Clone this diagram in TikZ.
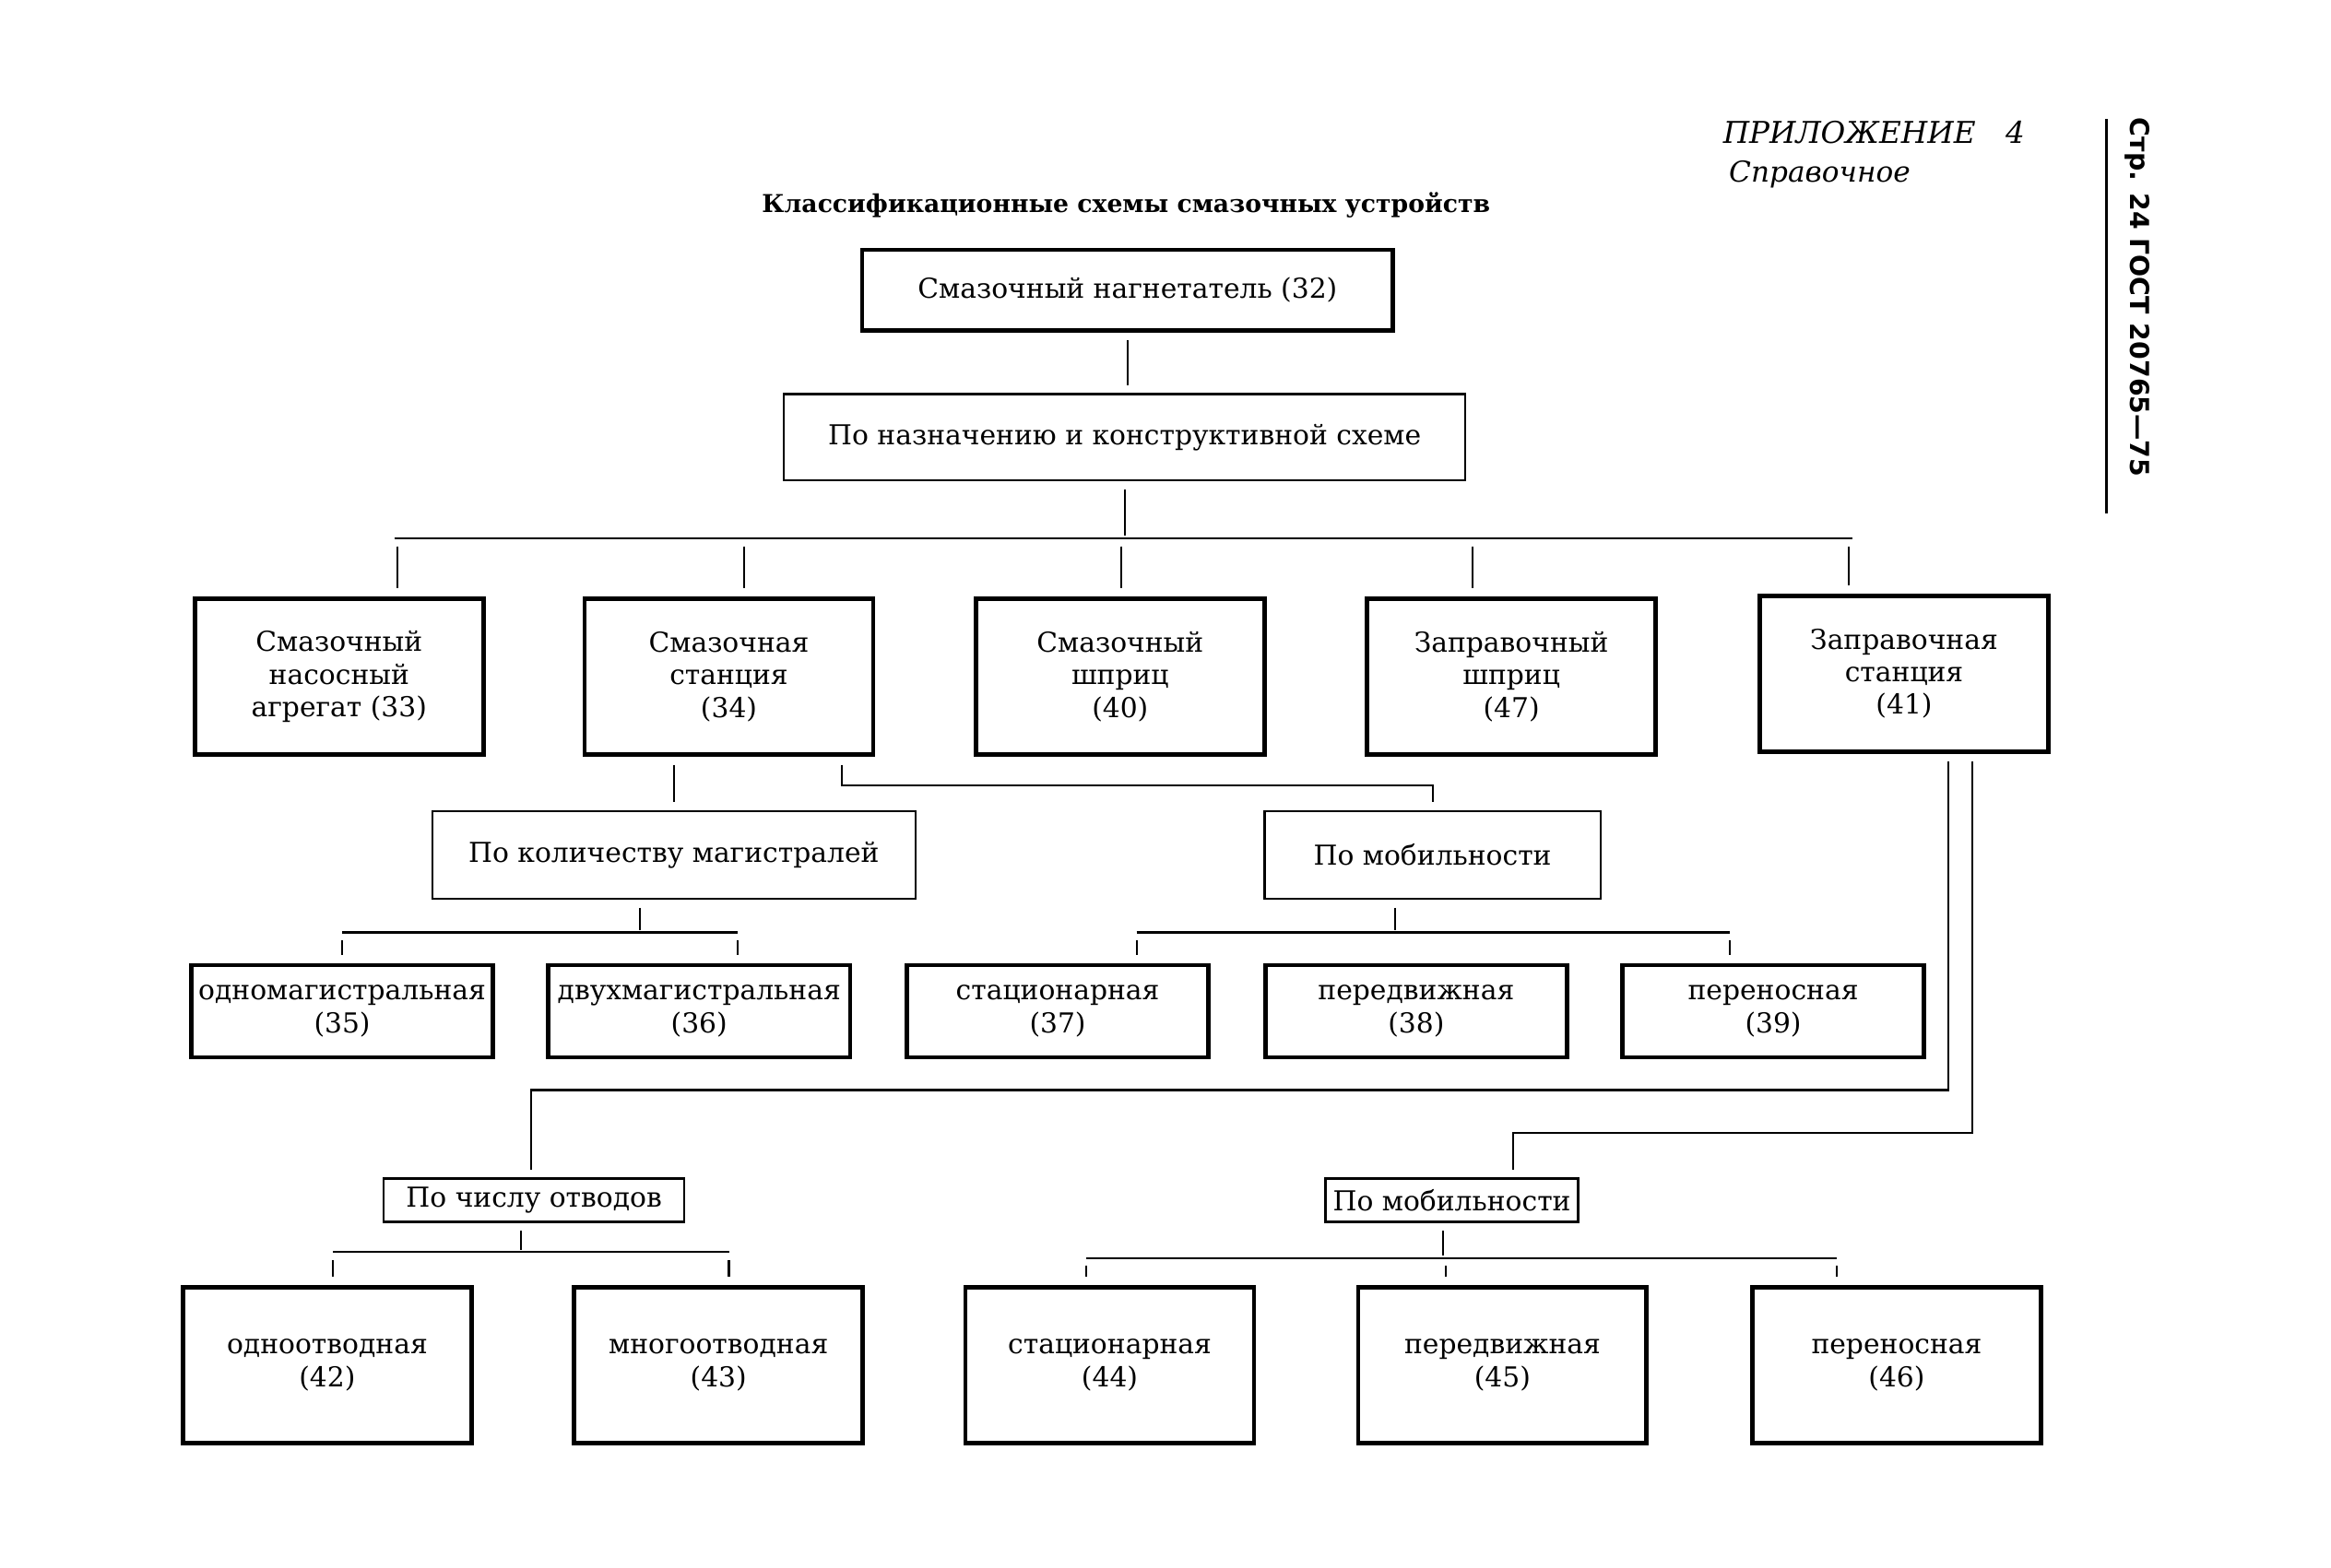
\documentclass[tikz,border=0pt]{standalone}
\usepackage{fontspec}
\setmainfont{DejaVu Serif}
\newfontfamily\sidefont{DejaVu Sans}
\usetikzlibrary{positioning}

\begin{document}
\begin{tikzpicture}[x=0.02cm, y=-0.02cm,
	device/.style={draw, line width=1.7pt, align=center, inner sep=0pt,
		font=\fontsize{10.5}{12.5}\selectfont},
	feature/.style={draw, line width=0.85pt, align=center, inner sep=0pt,
		font=\fontsize{10.5}{12.5}\selectfont},
	link/.style={line width=0.75pt, shorten <=3pt, shorten >=3pt},
	bus/.style={line width=0.75pt}]
	\useasboundingbox (0,0) rectangle (1567,1054);
	
	% Header
	\node[anchor=west, inner sep=0pt, font=\itshape\fontsize{11.5}{13}\selectfont] (appendix) at (1158,89) {ПРИЛОЖЕНИЕ\quad 4};
	\node[anchor=west, inner sep=0pt, font=\itshape\fontsize{11}{13}\selectfont] (reference) at (1162,117) {Справочное};
	\node[font=\bfseries\fontsize{9.4}{12}\selectfont] (title) at (757,138) {Классификационные схемы смазочных устройств};
	\node[rotate=-90, font=\sidefont\bfseries\fontsize{10}{12}\selectfont] (page) at (1437,200) {Стр. 24 ГОСТ 20765—75};
	\draw[line width=1.1pt] (1416,80) -- (1416,345);
	
	% Top
	\node[device, minimum width=7.14cm, minimum height=1.08cm] (pump) at (758,195) {Смазочный нагнетатель (32)};
	\node[feature, minimum width=9.16cm, minimum height=1.16cm] (purpose) at (756,294) {По назначению и конструктивной схеме};
	\draw[link] (pump.south) -- (pump.south |- purpose.north);
	
	% First row
	\node[device, minimum width=3.88cm, minimum height=2.1cm] (unit) at (228,455) {Смазочный\\насосный\\агрегат (33)};
	\node[device, minimum width=3.88cm, minimum height=2.1cm] (station) at (490,455) {Смазочная\\станция\\(34)};
	\node[device, minimum width=3.88cm, minimum height=2.1cm] (gun) at (753,455) {Смазочный\\шприц\\(40)};
	\node[device, minimum width=3.88cm, minimum height=2.1cm] (fillgun) at (1016,455) {Заправочный\\шприц\\(47)};
	\node[device, minimum width=3.88cm, minimum height=2.1cm] (fillstation) at (1280,453) {Заправочная\\станция\\(41)};
	
	\coordinate (busA) at (757,362);
	\draw[link, shorten >=1pt] (purpose.south) -- (purpose.south |- busA);
	\draw[bus] (265,362) -- (1245,362);
	\foreach \n/\x in {unit/267, station/500, gun/754, fillgun/990, fillstation/1243}{
		\coordinate (d\n) at (\x,362);
		\draw[link] (d\n) -- (d\n |- \n.north);
	}
	
	% Second level under the station
	\node[feature, minimum width=6.5cm, minimum height=1.18cm] (mains) at (453,575) {По количеству магистралей};
	\node[feature, minimum width=4.52cm, minimum height=1.18cm] (mobility) at (963,575) {По мобильности};
	\draw[link] (mains.north |- station.south) -- (mains.north);
	\coordinate (kink) at (566,528);
	\draw[link] (kink |- station.south) -- (kink) -- (kink -| mobility.north) -- (mobility.north);
	
	% Second row
	\node[device, minimum width=4.06cm, minimum height=1.24cm] (single) at (230,680) {одномагистральная\\(35)};
	\node[device, minimum width=4.06cm, minimum height=1.24cm] (double) at (470,680) {двухмагистральная\\(36)};
	\node[device, minimum width=4.06cm, minimum height=1.24cm] (fixed) at (711,680) {стационарная\\(37)};
	\node[device, minimum width=4.06cm, minimum height=1.24cm] (mobile) at (952,680) {передвижная\\(38)};
	\node[device, minimum width=4.06cm, minimum height=1.24cm] (portable) at (1192,680) {переносная\\(39)};
	
	\coordinate (busB) at (430,627);
	\draw[link, shorten >=1pt] (busB |- mains.south) -- (busB);
	\draw[bus] (230,627) -- (496,627);
	\coordinate (dsingle) at (230,627);
	\coordinate (ddouble) at (496,627);
	\draw[link] (dsingle) -- (dsingle |- single.north);
	\draw[link] (ddouble) -- (ddouble |- double.north);
	
	\coordinate (busC) at (938,627);
	\draw[link, shorten >=1pt] (busC |- mobility.south) -- (busC);
	\draw[bus] (764,627) -- (1163,627);
	\coordinate (dfixed) at (764,627);
	\coordinate (dportable) at (1163,627);
	\draw[link] (dfixed) -- (dfixed |- fixed.north);
	\draw[link] (dportable) -- (dportable |- portable.north);
	
	% Filling station
	\node[feature, minimum width=4.04cm, minimum height=0.58cm] (outlets) at (359,807) {По числу отводов};
	\node[feature, minimum width=3.4cm, minimum height=0.58cm] (mobility2) at (976,807) {По мобильности};
	\coordinate (leftturn) at (1310,733);
	\coordinate (leftdrop) at (357,733);
	\coordinate (rightturn) at (1326,762);
	\coordinate (rightdrop) at (1017,762);
	\draw[link] (leftturn |- fillstation.south) -- (leftturn) -- (leftdrop) -- (leftdrop |- outlets.north);
	\draw[link] (rightturn |- fillstation.south) -- (rightturn) -- (rightdrop) -- (rightdrop |- mobility2.north);
	
	% Third row
	\node[device, minimum width=3.88cm, minimum height=2.1cm] (oneout) at (220,918) {одноотводная\\(42)};
	\node[device, minimum width=3.88cm, minimum height=2.1cm] (manyout) at (483,918) {многоотводная\\(43)};
	\node[device, minimum width=3.88cm, minimum height=2.1cm] (fixed2) at (746,918) {стационарная\\(44)};
	\node[device, minimum width=3.88cm, minimum height=2.1cm] (mobile2) at (1010,918) {передвижная\\(45)};
	\node[device, minimum width=3.88cm, minimum height=2.1cm] (portable2) at (1275,918) {переносная\\(46)};
	
	\coordinate (busD) at (350,842);
	\draw[link, shorten >=1pt] (busD |- outlets.south) -- (busD);
	\draw[bus] (224,842) -- (490,842);
	\foreach \n/\x in {oneout/224, manyout/490}{
		\coordinate (d\n) at (\x,842);
		\draw[link] (d\n) -- (d\n |- \n.north);
	}
	
	\coordinate (busE) at (970,846);
	\draw[link, shorten >=1pt] (busE |- mobility2.south) -- (busE);
	\draw[bus] (730,846) -- (1235,846);
	\foreach \n/\x in {fixed2/730, mobile2/972, portable2/1235}{
		\coordinate (d\n) at (\x,846);
		\draw[link] (d\n) -- (d\n |- \n.north);
	}
\end{tikzpicture}
\end{document}
